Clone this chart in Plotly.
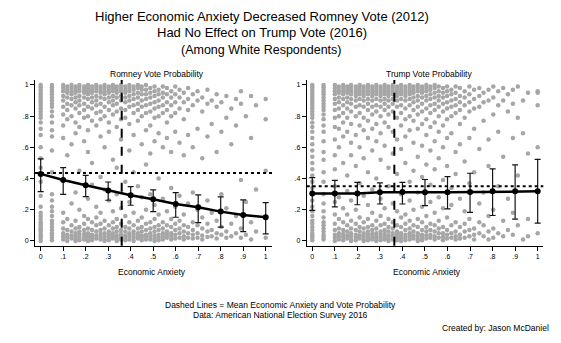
import plotly.graph_objects as go

W, H = 561, 343

# ---------------- data ----------------
anxiety_levels = [0, 0.1, 0.2, 0.3, 0.4, 0.5, 0.6, 0.7, 0.8, 0.9, 1.0]
x_tick_text = ["0", ".1", ".2", ".3", ".4", ".5", ".6", ".7", ".8", ".9", "1"]
y_tick_vals = [0, 0.2, 0.4, 0.6, 0.8, 1.0]
y_tick_text = ["0", ".2", ".4", ".6", ".8", "1"]

romney_pred = [0.430, 0.391, 0.357, 0.323, 0.293, 0.267, 0.237, 0.216, 0.188, 0.167, 0.152]
romney_hi = [0.526, 0.470, 0.421, 0.378, 0.348, 0.327, 0.310, 0.295, 0.282, 0.263, 0.246]
romney_lo = [0.316, 0.299, 0.284, 0.261, 0.229, 0.188, 0.152, 0.118, 0.088, 0.060, 0.045]

trump_pred = [0.305, 0.305, 0.305, 0.312, 0.314, 0.312, 0.312, 0.314, 0.318, 0.318, 0.318]
trump_hi = [0.406, 0.389, 0.376, 0.372, 0.376, 0.394, 0.413, 0.434, 0.462, 0.488, 0.523]
trump_lo = [0.196, 0.219, 0.232, 0.237, 0.237, 0.226, 0.206, 0.183, 0.163, 0.140, 0.114]

romney_mean_anxiety = 0.36
romney_mean_vote = 0.435
trump_mean_anxiety = 0.364
trump_mean_vote = 0.35

# respondent scatter, grouped by anxiety value (x) -> vote probabilities (y)
scatter_x = [0.0, 0.05, 0.1, 0.118, 0.137, 0.155, 0.172, 0.193, 0.21, 0.228, 0.247, 0.266,
             0.284, 0.303, 0.321, 0.338, 0.357, 0.376, 0.394, 0.413, 0.432, 0.449, 0.468,
             0.487, 0.506, 0.524, 0.543, 0.561, 0.58, 0.598, 0.617, 0.636, 0.655, 0.676,
             0.697, 0.718, 0.741, 0.76, 0.782, 0.803, 0.825, 0.847, 0.868, 0.89, 0.912,
             0.935, 0.957, 1.0]

romney_scatter_y = [
    [1, .985, .97, .955, .94, .925, .91, .895, .88, .865, .85, .83, .81, .79, .76, .72, .68, .6,
     .53, .47, .38, .29, .22, .18, .16, .14, .12, .105, .09, .075, .06, .045, .03, .015, 0],
    [1, .985, .97, .955, .94, .92, .9, .88, .86, .83, .8, .76, .71, .67, .58, .44, .3, .26, .22,
     .19, .16, .13, .11, .09, .07, .05, .035, .02, .005],
    [1, .98, .96, .93, .9, .86, .81, .74, .66, .18, .12, .08, .05, .03, .01],
    [.99, .97, .95, .92, .88, .84, .78, .55, .14, .07, .04, .02, 0],
    [1, .98, .96, .94, .91, .87, .8, .62, .24, .1, .06, .035, .015],
    [.99, .97, .95, .92, .89, .85, .76, .69, .31, .13, .08, .05, .03, .01, 0],
    [1, .98, .96, .93, .9, .87, .82, .73, .45, .2, .09, .06, .04, .02, .005],
    [.99, .97, .95, .92, .88, .84, .79, .64, .16, .11, .07, .045, .025, .01],
    [1, .98, .96, .94, .91, .86, .8, .71, .57, .27, .14, .08, .05, .03, .015, 0],
    [.99, .97, .95, .92, .89, .85, .77, .5, .36, .12, .07, .04, .02, .005],
    [1, .98, .96, .93, .9, .87, .82, .74, .22, .15, .1, .06, .035, .015],
    [.99, .97, .95, .92, .88, .83, .78, .67, .41, .18, .11, .07, .045, .025, .01],
    [1, .98, .96, .94, .91, .86, .8, .6, .33, .13, .08, .05, .03, .01, 0],
    [.99, .97, .95, .92, .89, .84, .76, .7, .26, .1, .06, .04, .02, .005],
    [1, .98, .96, .93, .9, .87, .81, .52, .19, .12, .08, .05, .03, .015],
    [.99, .97, .95, .92, .88, .83, .73, .47, .3, .14, .09, .06, .035, .015, 0],
    [1, .98, .96, .93, .9, .85, .78, .65, .21, .11, .07, .045, .025, .01],
    [.99, .97, .95, .92, .89, .84, .79, .38, .16, .09, .06, .035, .02, .005],
    [1, .98, .96, .93, .9, .86, .75, .58, .25, .12, .08, .05, .03, .01],
    [.99, .97, .94, .91, .87, .82, .68, .44, .18, .1, .06, .04, .02, 0],
    [1, .98, .95, .92, .88, .84, .77, .35, .13, .08, .05, .03, .015],
    [.99, .97, .94, .9, .86, .8, .62, .28, .15, .09, .06, .035, .02, .005],
    [1, .97, .94, .91, .87, .82, .71, .49, .2, .11, .07, .04, .02, .01],
    [.98, .95, .92, .88, .83, .74, .56, .3, .12, .08, .05, .03, .01],
    [.99, .96, .93, .89, .85, .79, .64, .23, .14, .09, .06, .035, .015, 0],
    [.97, .94, .9, .86, .8, .69, .4, .17, .1, .07, .04, .02, .005],
    [.99, .95, .92, .87, .82, .6, .27, .12, .08, .05, .03, .01],
    [.98, .94, .89, .84, .76, .66, .19, .1, .06, .04, .02],
    [.96, .92, .87, .8, .57, .34, .14, .09, .05, .03, .01],
    [.99, .94, .89, .82, .7, .22, .11, .07, .04, .015],
    [.97, .92, .85, .63, .29, .13, .08, .05, .02],
    [.95, .89, .78, .55, .17, .1, .06, .03, .01],
    [.98, .91, .84, .68, .24, .09, .05, .02],
    [.94, .87, .6, .31, .12, .07, .04, .015],
    [.96, .9, .72, .2, .1, .05, .02],
    [.92, .83, .53, .15, .08, .035, .01],
    [.97, .88, .67, .26, .11, .06, .025],
    [.9, .75, .18, .07, .03],
    [.94, .86, .57, .13, .05, .015],
    [.89, .7, .3, .09, .04],
    [.93, .79, .21, .06, .02],
    [.85, .62, .11, .03],
    [.91, .74, .16, .05],
    [.96, .88, .39, .08, .02],
    [.8, .25, .04],
    [.93, .66, .12, .01],
    [.87, .33, .06],
    [.91, .78, .45, .02],
]

trump_scatter_y = [
    [1, .985, .97, .955, .94, .925, .91, .895, .88, .865, .85, .83, .81, .79, .76, .73, .7, .66,
     .62, .58, .54, .5, .46, .42, .38, .34, .3, .26, .22, .19, .16, .13, .11, .09, .07, .05,
     .035, .02, .005],
    [1, .985, .97, .955, .94, .92, .9, .88, .86, .84, .81, .78, .74, .7, .64, .57, .52, .44,
     .38, .3, .24, .19, .15, .12, .1, .08, .06, .04, .025, .01],
    [1, .98, .96, .94, .91, .88, .84, .79, .73, .65, .55, .46, .35, .25, .17, .11, .07, .04, .02, 0],
    [.99, .97, .95, .92, .89, .85, .8, .72, .6, .28, .14, .08, .05, .03, .01],
    [1, .98, .96, .94, .91, .87, .82, .76, .67, .5, .21, .12, .07, .045, .025, .005],
    [.99, .97, .95, .92, .89, .85, .79, .7, .42, .32, .17, .1, .06, .035, .015],
    [1, .98, .96, .94, .91, .88, .83, .75, .63, .55, .26, .13, .08, .05, .03, .01, 0],
    [.99, .97, .95, .93, .9, .86, .8, .68, .48, .2, .11, .07, .04, .02, .005],
    [1, .98, .96, .94, .91, .87, .82, .74, .6, .37, .15, .09, .06, .035, .015],
    [.99, .97, .95, .93, .9, .86, .79, .71, .53, .29, .12, .08, .05, .03, .01, 0],
    [1, .98, .96, .94, .91, .88, .84, .77, .66, .44, .23, .14, .09, .06, .04, .02, .005],
    [.99, .97, .95, .93, .9, .86, .81, .72, .58, .33, .18, .1, .07, .045, .025, .01],
    [1, .98, .96, .94, .91, .87, .83, .75, .64, .4, .13, .08, .05, .03, .015, 0],
    [.99, .97, .95, .93, .9, .86, .8, .69, .52, .27, .16, .1, .06, .04, .02, .005],
    [1, .98, .96, .94, .91, .88, .84, .76, .61, .21, .11, .07, .045, .025, .01],
    [.99, .97, .95, .93, .9, .86, .81, .73, .47, .35, .14, .09, .06, .035, .015, 0],
    [1, .98, .96, .94, .91, .88, .83, .7, .56, .24, .12, .08, .05, .03, .01],
    [.99, .97, .95, .93, .9, .86, .79, .65, .43, .19, .1, .06, .04, .02, .005],
    [1, .98, .96, .94, .91, .87, .82, .74, .59, .3, .15, .09, .05, .03, .015, 0],
    [.99, .97, .95, .93, .9, .85, .78, .67, .5, .17, .11, .07, .04, .02, .005],
    [1, .98, .96, .94, .91, .87, .8, .71, .38, .26, .13, .08, .05, .03, .01],
    [.99, .97, .95, .92, .89, .84, .77, .63, .45, .2, .1, .06, .035, .015],
    [1, .98, .96, .93, .9, .86, .81, .72, .54, .31, .14, .09, .05, .03, .01, 0],
    [.99, .97, .95, .92, .88, .83, .75, .61, .41, .22, .12, .07, .04, .02, .005],
    [1, .98, .96, .93, .9, .85, .78, .68, .49, .16, .09, .06, .035, .015],
    [.99, .97, .94, .91, .87, .82, .73, .58, .36, .25, .11, .07, .04, .02],
    [1, .98, .95, .92, .88, .84, .76, .64, .46, .18, .1, .06, .03, .01],
    [.99, .96, .93, .9, .86, .8, .7, .53, .28, .13, .08, .05, .02],
    [.98, .95, .92, .88, .83, .74, .6, .39, .21, .09, .05, .025, .005],
    [.99, .96, .93, .89, .85, .78, .66, .48, .15, .07, .04, .015],
    [.97, .94, .9, .86, .8, .69, .34, .23, .1, .05, .02],
    [.99, .95, .91, .87, .82, .57, .43, .12, .06, .03, .01],
    [.98, .93, .89, .84, .75, .62, .27, .09, .04, .015],
    [.96, .92, .87, .79, .51, .19, .11, .06, .02],
    [.99, .94, .89, .83, .66, .37, .14, .07, .03],
    [.97, .91, .85, .72, .44, .08, .04, .01],
    [.98, .93, .86, .59, .24, .12, .05],
    [.95, .89, .77, .31, .1, .03],
    [.97, .9, .65, .48, .16, .06, .01],
    [.99, .92, .81, .2, .08, .02],
    [.96, .87, .7, .35, .05],
    [.98, .9, .54, .13, .03],
    [.94, .83, .27, .07],
    [.97, .88, .66, .18, .04],
    [.99, .79, .42, .1],
    [.9, .69, .01],
    [.95, .56, .14, .03],
    [.96, .95, .87, .6, .05],
]

title_lines = ["Higher Economic Anxiety Decreased Romney Vote (2012)",
               "Had No Effect on Trump Vote (2016)"]
subtitle = "(Among White Respondents)"
panel_titles = ["Romney Vote Probability", "Trump Vote Probability"]
x_title = "Economic Anxiety"
note_lines = ["Dashed Lines = Mean Economic Anxiety and Vote Probability",
              "Data: American National Election Survey 2016"]
credit = "Created by: Jason McDaniel"

# ---------------- figure ----------------
FONT = "Liberation Sans, Arial, Helvetica, sans-serif"
GRAY = "rgb(166,166,166)"


def px_x(p):
    return p / W


def px_y(p):
    return 1 - p / H


fig = go.Figure()

panels = [
    dict(xa="x", ya="y", sx=scatter_x, sy=romney_scatter_y, pred=romney_pred,
         hi=romney_hi, lo=romney_lo, ma=romney_mean_anxiety, mv=romney_mean_vote),
    dict(xa="x2", ya="y2", sx=scatter_x, sy=trump_scatter_y, pred=trump_pred,
         hi=trump_hi, lo=trump_lo, ma=trump_mean_anxiety, mv=trump_mean_vote),
]

for p in panels:
    xs, ys = [], []
    for xv, col in zip(p["sx"], p["sy"]):
        for yv in col:
            xs.append(xv)
            ys.append(yv)
    fig.add_trace(go.Scatter(x=xs, y=ys, mode="markers", xaxis=p["xa"], yaxis=p["ya"],
                             marker=dict(color=GRAY, size=4.5, line=dict(width=0)),
                             showlegend=False, hoverinfo="skip"))
    fig.add_trace(go.Scatter(
        x=anxiety_levels, y=p["pred"], mode="lines+markers", xaxis=p["xa"], yaxis=p["ya"],
        line=dict(color="black", width=2.5),
        marker=dict(color="black", size=6),
        error_y=dict(type="data", symmetric=False,
                     array=[h - m for h, m in zip(p["hi"], p["pred"])],
                     arrayminus=[m - l for l, m in zip(p["lo"], p["pred"])],
                     color="rgb(20,20,20)", thickness=1.2, width=3),
        showlegend=False, hoverinfo="skip"))
    fig.add_shape(type="line", xref=p["xa"] + " domain", yref=p["ya"],
                  x0=0, x1=1, y0=p["mv"], y1=p["mv"],
                  line=dict(color="black", width=2, dash="dot"), layer="above")
    fig.add_shape(type="line", xref=p["xa"], yref=p["ya"] + " domain",
                  x0=p["ma"], x1=p["ma"], y0=0, y1=1,
                  line=dict(color="black", width=2, dash="dash"), layer="above")

ydom = [px_y(245.7), px_y(80)]
axis_common = dict(showgrid=False, zeroline=False, showline=True, linecolor="black",
                   linewidth=1, ticks="outside", ticklen=4, tickwidth=1, tickcolor="black",
                   tickfont=dict(family=FONT, size=7, color="black"))

fig.update_layout(
    width=W, height=H,
    margin=dict(l=0, r=0, t=0, b=0),
    paper_bgcolor="white", plot_bgcolor="white",
    xaxis=dict(domain=[px_x(35), px_x(272)], range=[-0.0253, 1.028], anchor="y",
               tickvals=anxiety_levels, ticktext=x_tick_text, **axis_common),
    yaxis=dict(domain=ydom, range=[-0.0305, 1.032], anchor="x",
               tickvals=y_tick_vals, ticktext=y_tick_text, **axis_common),
    xaxis2=dict(domain=[px_x(306.7), px_x(543.3)], range=[-0.0248, 1.025], anchor="y2",
                tickvals=anxiety_levels, ticktext=x_tick_text, **axis_common),
    yaxis2=dict(domain=ydom, range=[-0.0305, 1.032], anchor="x2",
                tickvals=y_tick_vals, ticktext=y_tick_text, **axis_common),
)

ann = []


def add_text(text, xpx, ypx, size, xanchor="center"):
    ann.append(dict(text=text, x=px_x(xpx), y=px_y(ypx), xref="paper", yref="paper",
                    xanchor=xanchor, yanchor="middle", showarrow=False,
                    font=dict(family=FONT, size=size, color="black")))


add_text(title_lines[0], 261.5, 16, 13)
add_text(title_lines[1], 261.5, 32.5, 13)
add_text(subtitle, 261.5, 50.5, 12.5)
add_text(panel_titles[0], 157, 74, 8.5)
add_text(panel_titles[1], 429, 74, 8.5)
add_text(x_title, 152, 272, 8.5)
add_text(x_title, 427, 272, 8.5)
add_text(note_lines[0], 280.5, 305, 8.5)
add_text(note_lines[1], 280.5, 314.5, 8.5)
add_text(credit, 551, 328, 8.5, xanchor="right")
fig.update_layout(annotations=ann)

fig.write_html("out.html")
